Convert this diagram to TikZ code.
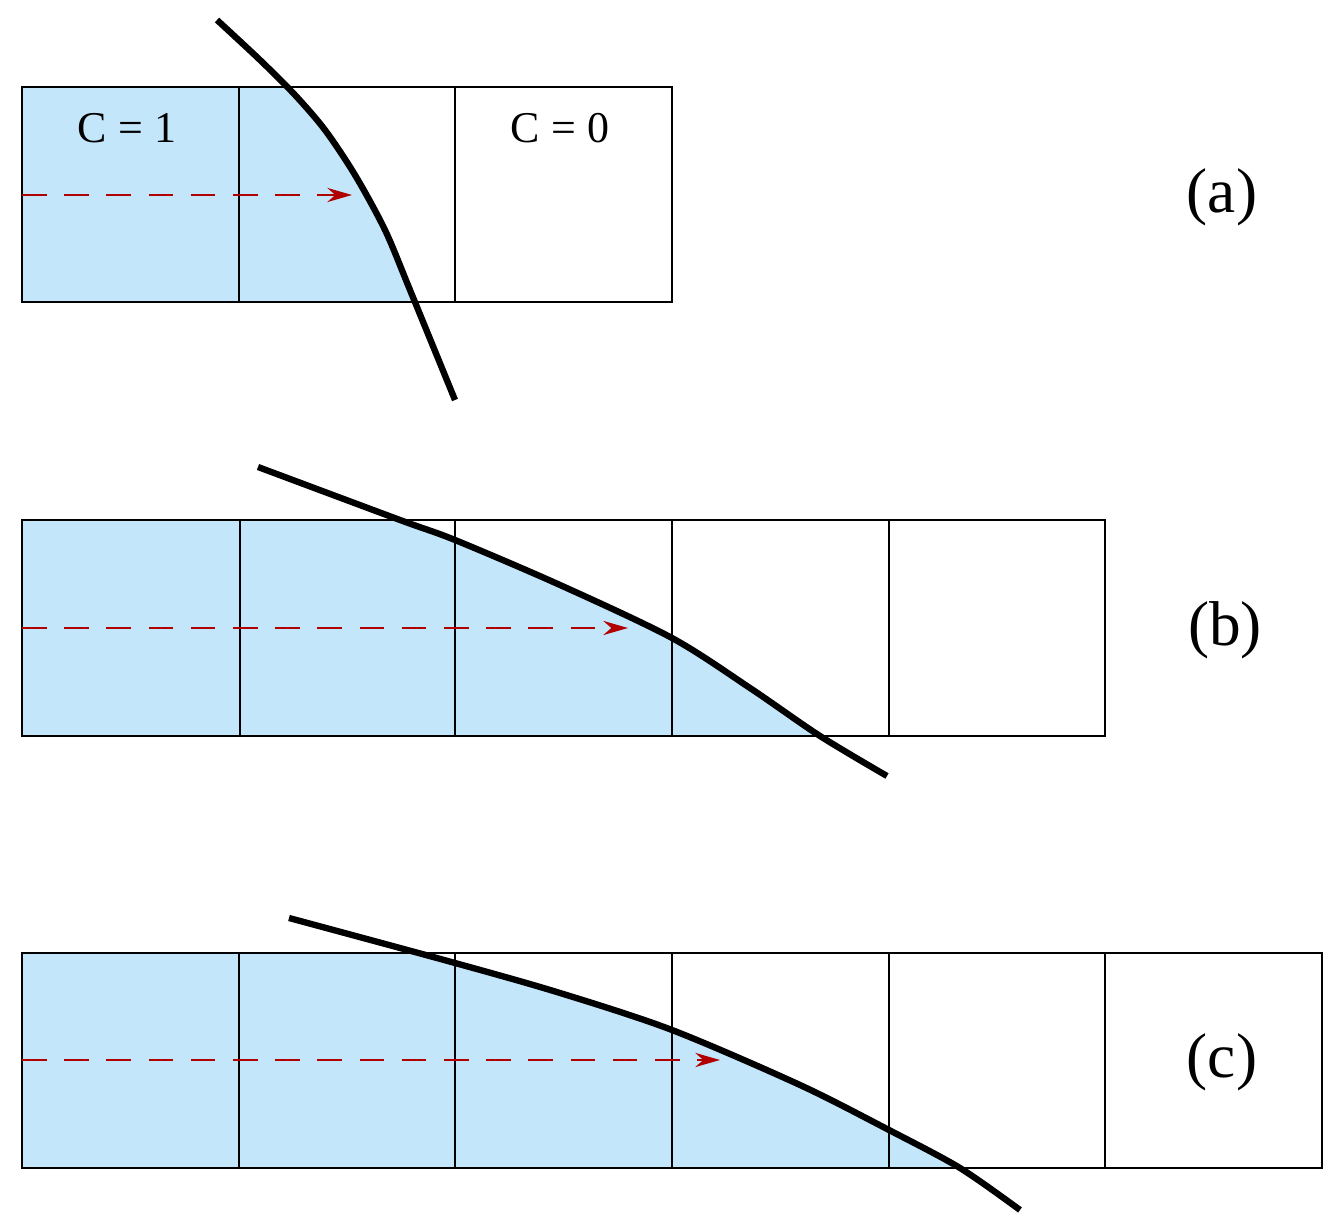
\documentclass[tikz,border=0pt]{standalone}
\usepackage{fontspec}
\setmainfont{Liberation Serif}
\usetikzlibrary{arrows.meta}
\definecolor{water}{HTML}{C4E6FB}
\definecolor{darr}{HTML}{B00000}
\begin{document}
\begin{tikzpicture}[x=0.01cm,y=-0.01cm,
  cell/.style={draw=black,line width=0.4pt},
  front/.style={line width=1.8pt},
  flux/.style={darr,line width=0.8pt,dash pattern=on 7pt off 5pt,-{Stealth[length=7pt,width=4pt]}},
  lab/.style={font=\fontsize{12.5}{14}\selectfont},
  plab/.style={font=\fontsize{18}{20}\selectfont}]
\useasboundingbox (0,0) rectangle (1344,1231);
% (a)
\begin{scope}
\clip (22,87) rectangle (672,302);
\fill[water] (0,0) -- plot[smooth] coordinates {(217,20) (260,60) (295,95) (325,130) (355,175) (385,230) (410,290) (455,400)} -- (0,400) -- cycle;
\end{scope}
\foreach \x/\X in {22/239,239/455,455/672} \draw[cell] (\x,87) rectangle (\X,302);
\draw[front] plot[smooth] coordinates {(217,20) (260,60) (295,95) (325,130) (355,175) (385,230) (410,290) (455,400)};
\coordinate (a1) at (22,195); \coordinate (a2) at (352,195);
\draw[flux] (a1) -- (a2);
\node[lab] (c1) at (127,128) {C = 1};
\node[lab] (c0) at (560,128) {C = 0};
\node[plab] (la) at (1222,197) {(a)};
% (b)
\begin{scope}
\clip (22,520) rectangle (1105,736);
\fill[water] (0,460) -- plot[smooth] coordinates {(258,467) (400,520) (455,540) (560,585) (672,638) (750,688) (820,736) (887,776)} -- (0,780) -- cycle;
\end{scope}
\foreach \x/\X in {22/240,240/455,455/672,672/889,889/1105} \draw[cell] (\x,520) rectangle (\X,736);
\draw[front] plot[smooth] coordinates {(258,467) (400,520) (455,540) (560,585) (672,638) (750,688) (820,736) (887,776)};
\coordinate (b1) at (22,628); \coordinate (b2) at (628,628);
\draw[flux] (b1) -- (b2);
\node[plab] (lb) at (1225,630) {(b)};
% (c)
\begin{scope}
\clip (22,953) rectangle (1322,1168);
\fill[water] (0,910) -- plot[smooth] coordinates {(289,918) (455,963) (560,993) (672,1030) (800,1085) (889,1130) (960,1168) (1020,1210)} -- (0,1220) -- cycle;
\end{scope}
\foreach \x/\X in {22/239,239/455,455/672,672/889,889/1105,1105/1322} \draw[cell] (\x,953) rectangle (\X,1168);
\draw[front] plot[smooth] coordinates {(289,918) (455,963) (560,993) (672,1030) (800,1085) (889,1130) (960,1168) (1020,1210)};
\coordinate (d1) at (22,1060); \coordinate (d2) at (720,1060);
\draw[flux] (d1) -- (d2);
\node[plab] (lc) at (1222,1062) {(c)};
\end{tikzpicture}
\end{document}
